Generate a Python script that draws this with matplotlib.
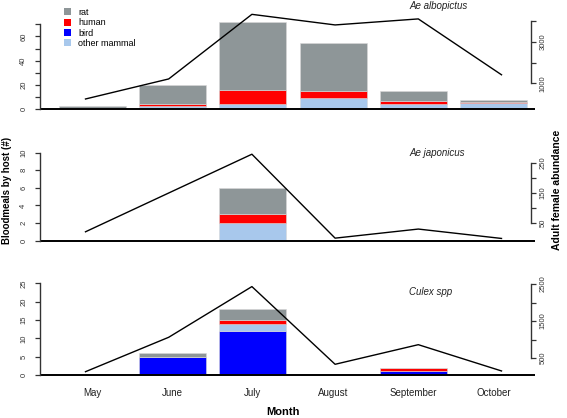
import matplotlib
matplotlib.use("Agg")
import matplotlib.pyplot as plt
from matplotlib.patches import Patch
import numpy as np

plt.rcParams['font.family'] = ['Liberation Sans', 'DejaVu Sans']

W, H = 567, 418

months = ["May", "June", "July", "August", "September", "October"]
host_names = ["bird", "other mammal", "human", "rat"]  # stacking order, bottom first
host_colors = {"rat": "#8e9698", "human": "#ff0000", "bird": "#0000ff", "other mammal": "#a8c8ec"}

# Ae albopictus
albo_bird = [0, 0, 0, 0, 0, 0]
albo_other = [0, 3, 4, 9, 4, 5]
albo_human = [1, 1, 12, 6, 3, 1]
albo_rat = [2, 16, 56, 40, 8, 2]
albo_abund = [245, 1210, 4320, 3810, 4100, 1410]

# Ae japonicus
jap_bird = [0, 0, 0, 0, 0, 0]
jap_other = [0, 0, 2, 0, 0, 0]
jap_human = [0, 0, 1, 0, 0, 0]
jap_rat = [0, 0, 3, 0, 0, 0]
jap_abund = [22, 150, 278, 1, 31, 0]

# Culex spp
cul_bird = [0, 5, 12, 0, 1, 0]
cul_other = [0, 0, 2, 0, 0, 0]
cul_human = [0, 0, 1, 0, 1, 0]
cul_rat = [0, 1, 3, 0, 0, 0]
cul_abund = [130, 1060, 2430, 330, 860, 150]

# per panel: name, stacks, abundance, box(top,bottom px),
# left axis (px of ref, ref value, px/unit, ticks, labels), right axis (same)
panels = [
    dict(name="Ae albopictus", stacks=[albo_bird, albo_other, albo_human, albo_rat], abund=albo_abund,
         box=(2, 116), title_y=6,
         left=(109.3, 0, 1.214, list(range(0, 71, 10)), ["0", "", "20", "", "40", "", "60", ""]),
         right=(83.3, 1000, 0.02077, [1000, 2000, 3000, 4000], ["1000", "", "3000", ""])),
    dict(name="Ae japonicus", stacks=[jap_bird, jap_other, jap_human, jap_rat], abund=jap_abund,
         box=(140, 246), title_y=153,
         left=(240.7, 0, 8.8, list(range(0, 11, 2)), [str(v) for v in range(0, 11, 2)]),
         right=(223.3, 50, 0.303, [50, 100, 150, 200, 250], ["50", "", "150", "", "250"])),
    dict(name="Culex spp", stacks=[cul_bird, cul_other, cul_human, cul_rat], abund=cul_abund,
         box=(272, 380), title_y=292,
         left=(375, 0, 3.667, list(range(0, 26, 5)), [str(v) for v in range(0, 26, 5)]),
         right=(358, 500, 0.037, [500, 1000, 1500, 2000, 2500], ["500", "", "1500", "", "2500"])),
]

x_left, x_right = 40, 535
bar_pos = 0.7 + 1.2 * np.arange(len(months))
bar_xlim = (0.7 - (92.3 - x_left) / 66.92, 0.7 + (x_right - 92.3) / 66.92)
line_x = np.arange(1, len(months) + 1)
line_xlim = (1 - (85.5 - x_left) / 83.2, 6 + (x_right - 501.5) / 83.2)

axis_col = "#333333"
fig = plt.figure(figsize=(W / 100, H / 100), dpi=100)


def ylims(spec, top, bot):
    ref_px, ref_v, ppu = spec[0], spec[1], spec[2]
    return ref_v - (bot - ref_px) / ppu, ref_v + (ref_px - top) / ppu


for i, p in enumerate(panels):
    top, bot = p["box"]
    pos = [x_left / W, 1 - bot / H, (x_right - x_left) / W, (bot - top) / H]
    ax = fig.add_axes(pos)
    ax.patch.set_alpha(0)
    bottom = np.zeros(len(months))
    for host, vals in zip(host_names, p["stacks"]):
        ax.bar(bar_pos, vals, width=1.0, bottom=bottom, color=host_colors[host],
               edgecolor="#d8d8d8", linewidth=0.4)
        bottom += np.array(vals)
    ax.axhline(0, color="black", lw=1.4)
    ax.set_xlim(bar_xlim)
    ax.set_ylim(ylims(p["left"], top, bot))
    for s in ["top", "right", "bottom"]:
        ax.spines[s].set_visible(False)
    lt = p["left"][3]
    ax.spines["left"].set_bounds(lt[0], lt[-1])
    ax.spines["left"].set_color(axis_col)
    ax.spines["left"].set_linewidth(1.0)
    ax.set_yticks(lt)
    ax.set_yticklabels(p["left"][4], rotation=90, va="center", fontsize=5.5, color=axis_col)
    ax.tick_params(axis="y", direction="out", length=3.6, width=0.9, color=axis_col, pad=5.5)
    if i == len(panels) - 1:
        ax.set_xticks(bar_pos)
        ax.set_xticklabels(months, fontsize=7, color="#222222")
        ax.tick_params(axis="x", length=0, pad=6)
    else:
        ax.set_xticks([])

    axl = fig.add_axes(pos)
    axl.patch.set_alpha(0)
    axl.plot(line_x, p["abund"], color="black", lw=1.0, clip_on=False)
    axl.set_xlim(line_xlim)
    axl.set_ylim(ylims(p["right"], top, bot))
    axl.set_xticks([])
    for s in ["top", "left", "bottom"]:
        axl.spines[s].set_visible(False)
    rt = p["right"][3]
    axl.spines["right"].set_position(("axes", (531 - x_left) / (x_right - x_left)))
    axl.spines["right"].set_bounds(rt[0], rt[-1])
    axl.spines["right"].set_color(axis_col)
    axl.spines["right"].set_linewidth(1.0)
    axl.yaxis.tick_right()
    axl.set_yticks(rt)
    axl.set_yticklabels(p["right"][4], rotation=90, va="center", fontsize=5.5, color=axis_col)
    axl.tick_params(axis="y", direction="out", length=3.6, width=0.9, color=axis_col, pad=2.5)

    fig.text(409 / W, 1 - p["title_y"] / H, p["name"], fontsize=7, style="italic",
             ha="left", va="center", color="#222222")

    if i == 0:
        handles = [Patch(facecolor=host_colors[h], edgecolor="none") for h in ["rat", "human", "bird", "other mammal"]]
        fig.legend(handles, ["rat", "human", "bird", "other mammal"], loc="upper left",
                   bbox_to_anchor=(64 / W, 1 - 8 / H), bbox_transform=fig.transFigure,
                   frameon=False, fontsize=6.5, handlelength=0.8, handleheight=0.8,
                   handletextpad=0.8, labelspacing=0.15, borderpad=0, borderaxespad=0)

fig.text(7 / W, 1 - 190 / H, "Bloodmeals by host (#)", rotation=90, fontsize=7,
         fontweight="bold", ha="center", va="center")
fig.text(557 / W, 1 - 190 / H, "Adult female abundance", rotation=90, fontsize=7.5,
         fontweight="bold", ha="center", va="center")
fig.text(283 / W, 1 - 412 / H, "Month", fontsize=8, fontweight="bold", ha="center", va="center")

fig.savefig("out.png", dpi=100)
